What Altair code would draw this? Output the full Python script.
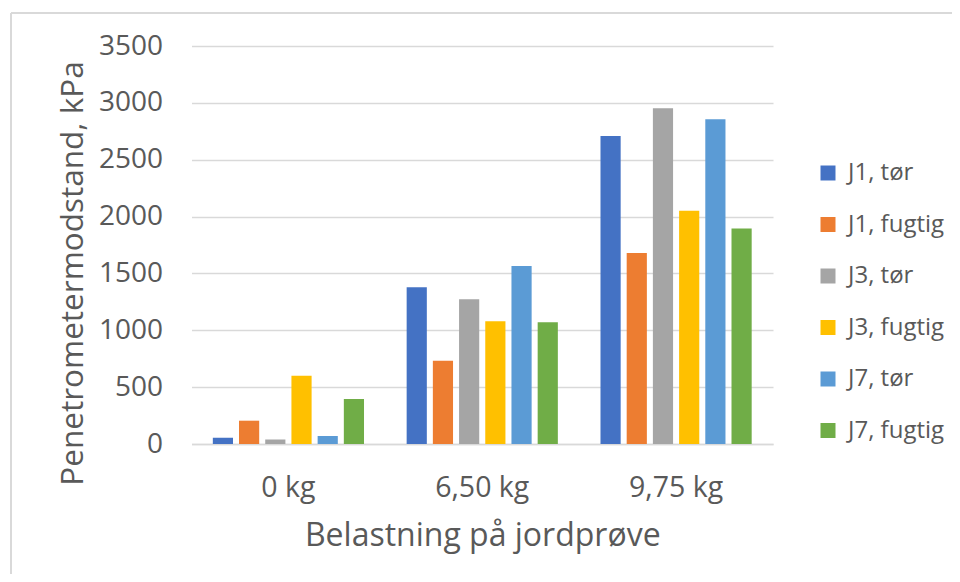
import altair as alt
import pandas as pd

categories = ["0 kg", "6,50 kg", "9,75 kg"]
series = ["J1, tør", "J1, fugtig", "J3, tør", "J3, fugtig", "J7, tør", "J7, fugtig"]
j1_tor = [55, 1378, 2708]
j1_fugtig = [205, 733, 1679]
j3_tor = [40, 1272, 2952]
j3_fugtig = [600, 1079, 2051]
j7_tor = [70, 1565, 2855]
j7_fugtig = [395, 1070, 1896]
colors = ["#4472C4", "#ED7D31", "#A5A5A5", "#FFC000", "#5B9BD5", "#70AD47"]
y_ticks = [0, 500, 1000, 1500, 2000, 2500, 3000, 3500]

values = [j1_tor, j1_fugtig, j3_tor, j3_fugtig, j7_tor, j7_fugtig]
rows = []
for s, vals in zip(series, values):
    for c, v in zip(categories, vals):
        rows.append({"cat": c, "series": s, "value": v})
df = pd.DataFrame(rows)

TXT = "#595959"
GRID = "#d9d9d9"

bars = alt.Chart(df).mark_bar().encode(
    x=alt.X("cat:N", sort=categories,
            scale=alt.Scale(paddingInner=0.22, paddingOuter=0.11),
            axis=alt.Axis(title="Belastning på jordprøve", labelAngle=0,
                          labelFontSize=28.5, labelColor=TXT, labelBaseline="alphabetic",
                          labelPadding=52, ticks=False, tickSize=0,
                          domainColor=GRID, domainWidth=1.5,
                          titleFontSize=32, titleColor=TXT, titleFontWeight="normal",
                          titleBaseline="alphabetic", titleY=101.7)),
    xOffset=alt.XOffset("series:N", sort=series,
                        scale=alt.Scale(paddingInner=0.23, paddingOuter=0)),
    y=alt.Y("value:Q", scale=alt.Scale(domain=[0, 3500], nice=False),
            axis=alt.Axis(title="Penetrometermodstand, kPa", values=y_ticks, format="d",
                          labelFontSize=28, labelColor=TXT, labelPadding=29,
                          ticks=False, tickSize=0, domain=False,
                          gridColor=GRID, gridWidth=1.5,
                          titleFontSize=31.5, titleColor=TXT, titleFontWeight="normal",
                          titleBaseline="alphabetic", titleX=-109.5, titleY=227,
                          titleAlign="center")),
    color=alt.Color("series:N", sort=series,
                    scale=alt.Scale(domain=series, range=colors),
                    legend=alt.Legend(title=None, orient="none", legendX=624.5, legendY=115,
                                      symbolType="square", symbolSize=225, symbolStrokeWidth=0,
                                      labelFontSize=24, labelColor=TXT, labelOffset=8,
                                      rowPadding=27.5, padding=0)),
)

one = pd.DataFrame({"a": [0]})
border_top = alt.Chart(one).mark_rule(color=GRID, strokeWidth=2).encode(
    x=alt.value(-180.5), x2=alt.value(900), y=alt.value(-33))
border_left = alt.Chart(one).mark_rule(color=GRID, strokeWidth=2).encode(
    x=alt.value(-180.5), y=alt.value(-33), y2=alt.value(600))

chart = alt.layer(border_top, border_left, bars).properties(
    width=581.5, height=398,
    autosize=alt.AutoSizeParams(type="none"),
    padding={"left": 183.5, "top": 38, "right": 179, "bottom": 130},
).configure(font="Open Sans").configure_view(strokeWidth=0)

chart.save("out.html", embed_options={"renderer": "svg", "actions": False})
